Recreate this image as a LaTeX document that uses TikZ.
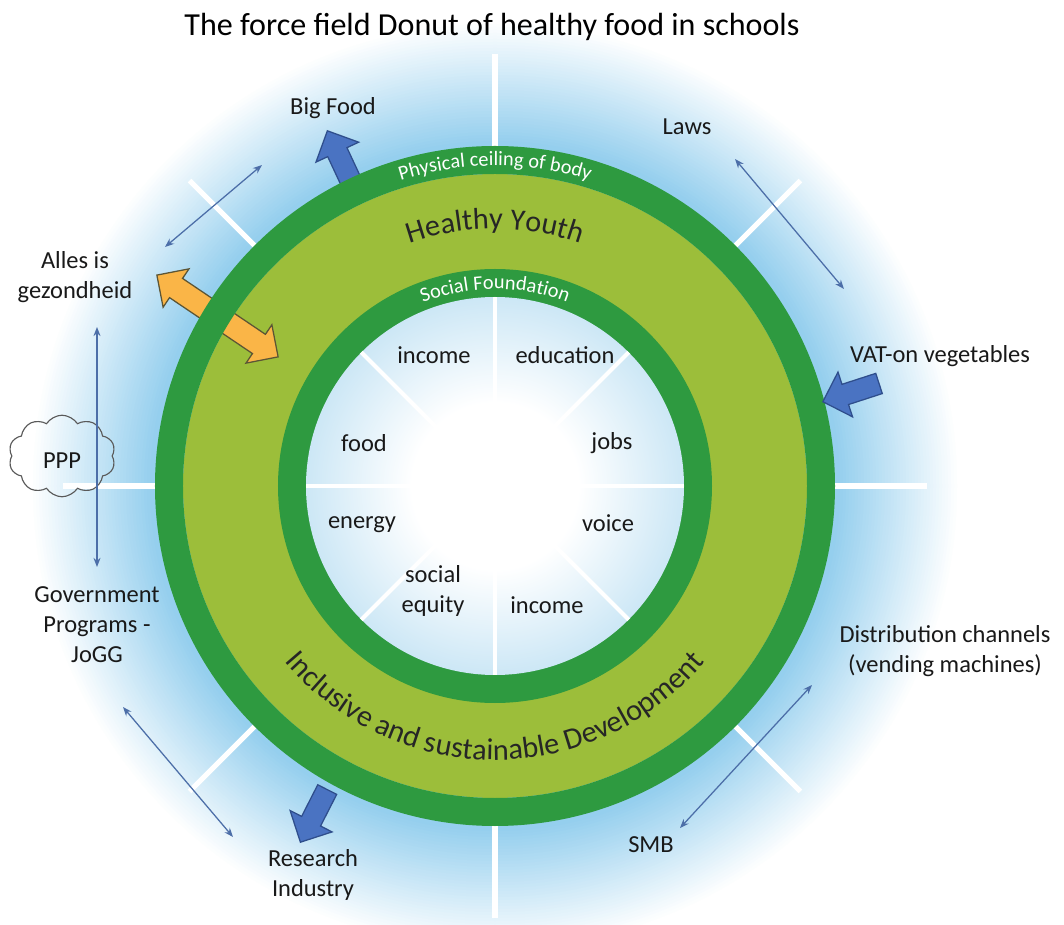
\documentclass[tikz,border=0pt]{standalone}
\usepackage{fontspec}
\setmainfont{Carlito}
\usepackage{tikz}
\usetikzlibrary{shapes.arrows,shapes.symbols,decorations.text,arrows.meta}
\definecolor{ringDark}{HTML}{2E9A40}
\definecolor{ringLight}{HTML}{9CBE3A}
\definecolor{glowBlue}{HTML}{95CFEE}
\definecolor{coreBlue}{HTML}{A8D6EF}
\definecolor{forceBlue}{HTML}{4A73C2}
\definecolor{forceLine}{HTML}{2F4E8C}
\definecolor{orangeArrow}{HTML}{FAB547}
\definecolor{orangeLine}{HTML}{5C5535}
\definecolor{linkBlue}{HTML}{4C6EA8}
\pgfdeclareradialshading{coreshade}{\pgfpointorigin}{color(0bp)=(white); color(11bp)=(white); color(35bp)=(coreBlue); color(50bp)=(coreBlue)}
\newcommand{\titlesize}{\fontsize{22.8}{27}\selectfont}
\newcommand{\labelsize}{\fontsize{17.4}{21.4}\selectfont}
\newcommand{\bandsize}{\fontsize{14.5}{17}\selectfont}
\newcommand{\ringsize}{\fontsize{21.5}{25}\selectfont}

\begin{document}
\begin{tikzpicture}[x=0.025cm,y=0.025cm,
  lbl/.style={font=\labelsize,align=center,text=black!90,inner sep=1pt},
  glowray/.style={white,line width=3.6pt},
  spoke/.style={white,line width=2.8pt},
  forcearrow/.style={single arrow,fill=forceBlue,draw=forceLine,line width=0.9pt,
    inner sep=7.1pt,single arrow head extend=9.2pt,minimum height=42pt,anchor=tip},
  biarrow/.style={linkBlue,line width=0.9pt,
    {Stealth[length=6.5pt,width=5pt]}-{Stealth[length=6.5pt,width=5pt]}}]
  \fill[white] (-495,-439) rectangle (569,486);
  \useasboundingbox (-495,-439) rectangle (569,486);

  % Blue glow round the donut
  \foreach \i in {0,...,40} {
    \pgfmathsetmacro{\glowr}{465-3*\i}
    \pgfmathsetmacro{\glowpct}{100*(\i/40)}
    \fill[glowBlue!\glowpct!white] (0,0) circle (\glowr);
  }
  \foreach \a in {0,45,...,315}
    \draw[glowray] (\a:340) -- (\a:432);

  % Title
  \node[font=\titlesize] (title) at (-3,459) {The force field Donut of healthy food in schools};

  % Forces behind the ring
  \node[forcearrow,rotate=115] (bigfoodarrow) at (-168,356) {};
  \node[forcearrow,rotate=243] (researcharrow) at (-195,-357) {};

  % Donut rings
  \fill[ringLight] (0,0) circle (312);
  \node[double arrow,fill=orangeArrow,draw=orangeLine,line width=0.9pt,inner sep=7.8pt,
    double arrow head extend=8.2pt,minimum height=104pt,rotate=-34] (alles) at (-277.5,170) {};
  \fill[ringDark,even odd rule] (0,0) circle (340) (0,0) circle (312);
  \fill[ringDark] (0,0) circle (217);
  \shade[shading=coreshade] (0,0) circle (189);
  \foreach \a in {0,45,...,315}
    \draw[spoke] (\a:30) -- (\a:189);

  % Texts along the rings
  \path[decorate,decoration={text along path,text align=center,
    text={|\bandsize\color{white}|Physical ceiling of body}}]
    (160:320) arc[start angle=160,end angle=20,radius=320];
  \path[decorate,decoration={text along path,text align=center,
    text={|\ringsize\color{black!85}|Healthy Youth}}]
    (150:257) arc[start angle=150,end angle=30,radius=257];
  \path[decorate,decoration={text along path,text align=center,
    text={|\bandsize\color{white}|Social Foundation}}]
    (160:197) arc[start angle=160,end angle=20,radius=197];
  \path[decorate,decoration={text along path,text align=center,
    text={|\ringsize\color{black!85}|Inclusive and sustainable Development}}]
    (200:274) arc[start angle=200,end angle=340,radius=274];

  % Social foundation sectors
  \node[lbl] (income1) at (-61,131) {income};
  \node[lbl] (education) at (70,131) {education};
  \node[lbl] (food) at (-131,43) {food};
  \node[lbl] (jobs) at (117,43) {jobs};
  \node[lbl] (energy) at (-133,-39) {energy};
  \node[lbl] (voice) at (113,-37) {voice};
  \node[lbl] (equity) at (-62,-105) {social\\equity};
  \node[lbl] (income2) at (52,-119) {income};

  % Actors round the donut
  \node[lbl] (bigfood) at (-162,378) {Big Food};
  \node[lbl] (laws) at (192,359) {Laws};
  \node[lbl] (gezond) at (-420,209) {Alles is\\gezondheid};
  \node[cloud,cloud puffs=10,cloud puff arc=115,aspect=1.3,draw=black!65,line width=0.8pt,
    minimum width=76pt,minimum height=58pt] (pppcloud) at (-433,30) {};
  \node[lbl] (ppp) at (-433,25) {PPP};
  \node[lbl] (gov) at (-398,-139) {Government\\Programs -\\JoGG};
  \node[lbl] (research) at (-182,-389) {Research\\Industry};
  \node[lbl] (smb) at (156,-359) {SMB};
  \node[lbl] (distri) at (450,-165) {Distribution channels\\(vending machines)};
  \node[lbl] (vat) at (445,130) {VAT-on vegetables};

  % Pushing force from the right
  \node[forcearrow,rotate=198] (vatarrow) at (327,84) {};

  % Two-way links
  \coordinate (tlA) at (-330,239);
  \coordinate (tlB) at (-233,321);
  \coordinate (trA) at (240,327);
  \coordinate (trB) at (349,197);
  \coordinate (lfA) at (-398,159);
  \coordinate (lfB) at (-398,-81);
  \coordinate (blA) at (-372,-221);
  \coordinate (blB) at (-262,-351);
  \coordinate (brA) at (317,-199);
  \coordinate (brB) at (185,-342);
  \draw[biarrow] (tlA) -- (tlB);
  \draw[biarrow] (trA) -- (trB);
  \draw[biarrow] (lfA) -- (lfB);
  \draw[biarrow] (blA) -- (blB);
  \draw[biarrow] (brA) -- (brB);
\end{tikzpicture}
\end{document}
